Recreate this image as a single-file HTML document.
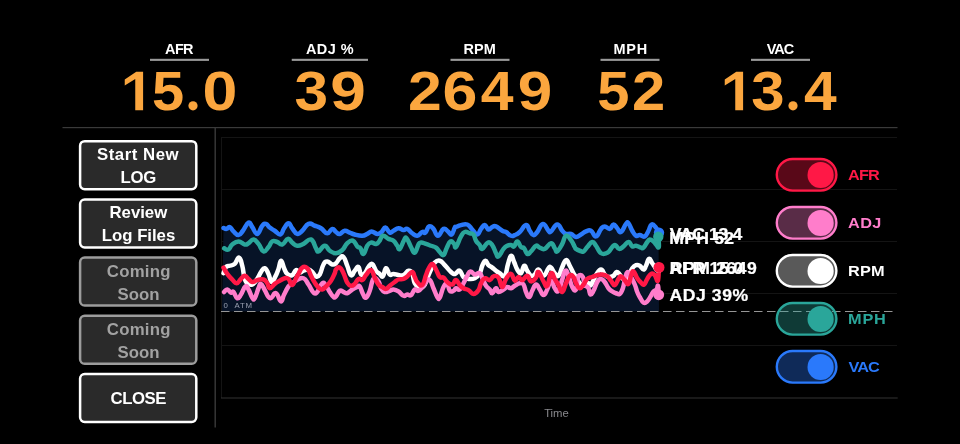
<!DOCTYPE html>
<html><head><meta charset="utf-8">
<style>
html,body{margin:0;padding:0;background:#000;}
body{width:960px;height:444px;overflow:hidden;position:relative;}
svg{position:absolute;left:0;top:0;display:block;filter:opacity(0.9999);}
text{font-family:"Liberation Sans",sans-serif;white-space:pre;}
</style></head><body>
<svg width="960" height="444" viewBox="0 0 960 444">
<rect x="0" y="0" width="960" height="444" fill="#000"/>
<!-- header underlines -->
<g fill="#9a9a9a">
<rect x="150" y="58.8" width="59" height="2.1"/>
<rect x="291.75" y="58.8" width="76.25" height="2.1"/>
<rect x="450.5" y="58.8" width="59" height="2.1"/>
<rect x="600.5" y="58.8" width="59" height="2.1"/>
<rect x="751" y="58.8" width="59" height="2.1"/>
</g>
<!-- dividers -->
<rect x="62.5" y="127" width="835" height="1.2" fill="#3a3a3a"/>
<rect x="214.5" y="127" width="1.4" height="300.5" fill="#3a3a3a"/>
<!-- buttons -->
<rect x="80.1" y="141.15" width="116.2" height="48" rx="4.6" ry="4.6" fill="#2a2a2a" stroke="#fff" stroke-width="2.5"/>
<rect x="80.1" y="199.45" width="116.2" height="48" rx="4.6" ry="4.6" fill="#2a2a2a" stroke="#fff" stroke-width="2.5"/>
<rect x="80.1" y="257.55" width="116.2" height="48" rx="4.6" ry="4.6" fill="#2a2a2a" stroke="#9c9c9c" stroke-width="2.5"/>
<rect x="80.1" y="315.75" width="116.2" height="48" rx="4.6" ry="4.6" fill="#2a2a2a" stroke="#9c9c9c" stroke-width="2.5"/>
<rect x="80.1" y="373.95" width="116.2" height="48" rx="4.6" ry="4.6" fill="#2a2a2a" stroke="#fff" stroke-width="2.5"/>
<!-- chart grid -->
<g stroke="#141414" stroke-width="1" fill="none">
<line x1="221" y1="137.5" x2="897" y2="137.5"/>
<line x1="221" y1="189.5" x2="897" y2="189.5"/>
<line x1="221" y1="241.5" x2="897" y2="241.5"/>
<line x1="221" y1="293.5" x2="897" y2="293.5"/>
<line x1="221" y1="345.5" x2="897" y2="345.5"/>
<line x1="221.5" y1="137" x2="221.5" y2="398"/>
</g>
<line x1="221" y1="398" x2="897.7" y2="398" stroke="#333" stroke-width="1"/>
<path d="M223.50,228.00 C224.22,228.21 225.14,229.13 226.60,228.90 C228.06,228.67 228.14,226.42 229.75,227.00 C231.36,227.58 231.46,229.51 233.50,231.40 C235.54,233.29 236.31,235.25 238.50,235.10 C240.69,234.95 240.57,233.67 242.90,230.75 C245.23,227.83 246.32,223.47 248.50,222.60 C250.68,221.72 250.21,224.36 252.25,227.00 C254.29,229.64 254.92,234.19 257.25,233.90 C259.58,233.61 260.21,228.08 262.25,225.75 C264.29,223.42 264.25,223.47 266.00,223.90 C267.75,224.33 267.71,226.00 269.75,227.60 C271.79,229.20 272.26,229.14 274.75,230.75 C277.24,232.36 278.22,235.08 280.40,234.50 C282.58,233.92 282.21,230.88 284.10,228.25 C285.99,225.62 286.60,223.25 288.50,223.25 C290.40,223.25 290.21,225.76 292.25,228.25 C294.29,230.74 294.92,233.32 297.25,233.90 C299.58,234.48 299.62,233.08 302.25,230.75 C304.88,228.42 305.58,225.07 308.50,223.90 C311.42,222.73 311.83,224.74 314.75,225.75 C317.67,226.76 318.08,226.50 321.00,228.25 C323.92,230.00 324.62,233.10 327.25,233.25 C329.88,233.40 330.21,229.19 332.25,228.90 C334.29,228.61 334.25,230.83 336.00,232.00 C337.75,233.17 337.71,234.19 339.75,233.90 C341.79,233.61 342.42,231.05 344.75,230.75 C347.08,230.45 347.42,231.72 349.75,232.60 C352.08,233.47 351.83,233.76 354.75,234.50 C357.67,235.24 359.33,235.89 362.25,235.75 C365.17,235.61 365.07,234.91 367.25,233.90 C369.43,232.89 369.27,231.40 371.60,231.40 C373.93,231.40 374.92,233.76 377.25,233.90 C379.58,234.04 379.70,233.47 381.60,232.00 C383.50,230.53 383.50,227.46 385.40,227.60 C387.30,227.74 387.86,231.86 389.75,232.60 C391.64,233.34 391.46,231.76 393.50,230.75 C395.54,229.74 396.17,228.40 398.50,228.25 C400.83,228.10 401.46,229.95 403.50,230.10 C405.54,230.25 405.21,228.16 407.25,228.90 C409.29,229.64 409.92,231.65 412.25,233.25 C414.58,234.85 414.92,236.04 417.25,235.75 C419.58,235.46 420.35,232.74 422.25,232.00 C424.15,231.26 423.80,233.91 425.40,232.60 C427.00,231.29 427.21,227.26 429.10,226.40 C430.99,225.54 431.45,226.72 433.50,228.90 C435.55,231.08 435.57,235.75 437.90,235.75 C440.23,235.75 441.17,229.91 443.50,228.90 C445.83,227.89 446.01,230.09 447.90,231.40 C449.79,232.71 450.00,235.39 451.60,234.50 C453.20,233.61 453.72,229.35 454.75,227.60 C455.78,225.85 454.54,227.58 456.00,227.00 C457.46,226.42 458.38,225.68 461.00,225.10 C463.62,224.52 464.62,223.47 467.25,224.50 C469.88,225.53 469.92,227.17 472.25,229.50 C474.58,231.83 475.21,234.64 477.25,234.50 C479.29,234.36 479.25,231.09 481.00,228.90 C482.75,226.71 483.00,224.96 484.75,225.10 C486.50,225.24 486.75,229.06 488.50,229.50 C490.25,229.94 490.50,227.72 492.25,227.00 C494.00,226.28 493.67,225.53 496.00,226.40 C498.33,227.28 499.92,229.44 502.25,230.75 C504.58,232.06 503.96,230.83 506.00,232.00 C508.04,233.17 508.96,235.03 511.00,235.75 C513.04,236.47 512.71,235.97 514.75,235.10 C516.79,234.22 517.12,234.33 519.75,232.00 C522.38,229.67 523.67,225.39 526.00,225.10 C528.33,224.81 528.00,228.42 529.75,230.75 C531.50,233.08 531.75,234.81 533.50,235.10 C535.25,235.39 535.06,234.61 537.25,232.00 C539.44,229.39 540.27,224.19 542.90,223.90 C545.52,223.61 546.61,229.00 548.50,230.75 C550.39,232.50 548.96,232.86 551.00,231.40 C553.04,229.94 554.62,224.65 557.25,224.50 C559.88,224.35 560.21,228.56 562.25,230.75 C564.29,232.94 563.96,233.16 566.00,233.90 C568.04,234.64 568.67,233.18 571.00,233.90 C573.33,234.62 573.67,236.86 576.00,237.00 C578.33,237.14 578.67,235.81 581.00,234.50 C583.33,233.19 583.67,232.28 586.00,231.40 C588.33,230.53 588.67,229.58 591.00,230.75 C593.33,231.92 593.67,236.83 596.00,236.40 C598.33,235.97 598.96,231.23 601.00,228.90 C603.04,226.57 602.71,226.40 604.75,226.40 C606.79,226.40 607.71,229.34 609.75,228.90 C611.79,228.46 611.75,224.65 613.50,224.50 C615.25,224.35 615.50,226.50 617.25,228.25 C619.00,230.00 618.96,233.01 621.00,232.00 C623.04,230.99 624.25,225.94 626.00,223.90 C627.75,221.86 627.04,221.65 628.50,223.25 C629.96,224.85 630.50,227.83 632.25,230.75 C634.00,233.67 634.25,234.74 636.00,235.75 C637.75,236.76 637.71,234.95 639.75,235.10 C641.79,235.25 642.71,237.41 644.75,236.40 C646.79,235.39 646.90,233.53 648.50,230.75 C650.10,227.97 649.85,225.24 651.60,224.50 C653.35,223.76 654.39,225.73 656.00,227.60 C657.61,229.47 657.92,231.36 658.50,232.50 L659,311.5 L222,311.5 Z" fill="#071327"/>
<line x1="221" y1="311.5" x2="897" y2="311.5" stroke="#969696" stroke-width="1" stroke-dasharray="8.5 4.5"/>
<!-- series -->
<g fill="none" stroke-width="4.5" stroke-linecap="round" stroke-linejoin="round">
<path d="M223.50,228.00 C224.22,228.21 225.14,229.13 226.60,228.90 C228.06,228.67 228.14,226.42 229.75,227.00 C231.36,227.58 231.46,229.51 233.50,231.40 C235.54,233.29 236.31,235.25 238.50,235.10 C240.69,234.95 240.57,233.67 242.90,230.75 C245.23,227.83 246.32,223.47 248.50,222.60 C250.68,221.72 250.21,224.36 252.25,227.00 C254.29,229.64 254.92,234.19 257.25,233.90 C259.58,233.61 260.21,228.08 262.25,225.75 C264.29,223.42 264.25,223.47 266.00,223.90 C267.75,224.33 267.71,226.00 269.75,227.60 C271.79,229.20 272.26,229.14 274.75,230.75 C277.24,232.36 278.22,235.08 280.40,234.50 C282.58,233.92 282.21,230.88 284.10,228.25 C285.99,225.62 286.60,223.25 288.50,223.25 C290.40,223.25 290.21,225.76 292.25,228.25 C294.29,230.74 294.92,233.32 297.25,233.90 C299.58,234.48 299.62,233.08 302.25,230.75 C304.88,228.42 305.58,225.07 308.50,223.90 C311.42,222.73 311.83,224.74 314.75,225.75 C317.67,226.76 318.08,226.50 321.00,228.25 C323.92,230.00 324.62,233.10 327.25,233.25 C329.88,233.40 330.21,229.19 332.25,228.90 C334.29,228.61 334.25,230.83 336.00,232.00 C337.75,233.17 337.71,234.19 339.75,233.90 C341.79,233.61 342.42,231.05 344.75,230.75 C347.08,230.45 347.42,231.72 349.75,232.60 C352.08,233.47 351.83,233.76 354.75,234.50 C357.67,235.24 359.33,235.89 362.25,235.75 C365.17,235.61 365.07,234.91 367.25,233.90 C369.43,232.89 369.27,231.40 371.60,231.40 C373.93,231.40 374.92,233.76 377.25,233.90 C379.58,234.04 379.70,233.47 381.60,232.00 C383.50,230.53 383.50,227.46 385.40,227.60 C387.30,227.74 387.86,231.86 389.75,232.60 C391.64,233.34 391.46,231.76 393.50,230.75 C395.54,229.74 396.17,228.40 398.50,228.25 C400.83,228.10 401.46,229.95 403.50,230.10 C405.54,230.25 405.21,228.16 407.25,228.90 C409.29,229.64 409.92,231.65 412.25,233.25 C414.58,234.85 414.92,236.04 417.25,235.75 C419.58,235.46 420.35,232.74 422.25,232.00 C424.15,231.26 423.80,233.91 425.40,232.60 C427.00,231.29 427.21,227.26 429.10,226.40 C430.99,225.54 431.45,226.72 433.50,228.90 C435.55,231.08 435.57,235.75 437.90,235.75 C440.23,235.75 441.17,229.91 443.50,228.90 C445.83,227.89 446.01,230.09 447.90,231.40 C449.79,232.71 450.00,235.39 451.60,234.50 C453.20,233.61 453.72,229.35 454.75,227.60 C455.78,225.85 454.54,227.58 456.00,227.00 C457.46,226.42 458.38,225.68 461.00,225.10 C463.62,224.52 464.62,223.47 467.25,224.50 C469.88,225.53 469.92,227.17 472.25,229.50 C474.58,231.83 475.21,234.64 477.25,234.50 C479.29,234.36 479.25,231.09 481.00,228.90 C482.75,226.71 483.00,224.96 484.75,225.10 C486.50,225.24 486.75,229.06 488.50,229.50 C490.25,229.94 490.50,227.72 492.25,227.00 C494.00,226.28 493.67,225.53 496.00,226.40 C498.33,227.28 499.92,229.44 502.25,230.75 C504.58,232.06 503.96,230.83 506.00,232.00 C508.04,233.17 508.96,235.03 511.00,235.75 C513.04,236.47 512.71,235.97 514.75,235.10 C516.79,234.22 517.12,234.33 519.75,232.00 C522.38,229.67 523.67,225.39 526.00,225.10 C528.33,224.81 528.00,228.42 529.75,230.75 C531.50,233.08 531.75,234.81 533.50,235.10 C535.25,235.39 535.06,234.61 537.25,232.00 C539.44,229.39 540.27,224.19 542.90,223.90 C545.52,223.61 546.61,229.00 548.50,230.75 C550.39,232.50 548.96,232.86 551.00,231.40 C553.04,229.94 554.62,224.65 557.25,224.50 C559.88,224.35 560.21,228.56 562.25,230.75 C564.29,232.94 563.96,233.16 566.00,233.90 C568.04,234.64 568.67,233.18 571.00,233.90 C573.33,234.62 573.67,236.86 576.00,237.00 C578.33,237.14 578.67,235.81 581.00,234.50 C583.33,233.19 583.67,232.28 586.00,231.40 C588.33,230.53 588.67,229.58 591.00,230.75 C593.33,231.92 593.67,236.83 596.00,236.40 C598.33,235.97 598.96,231.23 601.00,228.90 C603.04,226.57 602.71,226.40 604.75,226.40 C606.79,226.40 607.71,229.34 609.75,228.90 C611.79,228.46 611.75,224.65 613.50,224.50 C615.25,224.35 615.50,226.50 617.25,228.25 C619.00,230.00 618.96,233.01 621.00,232.00 C623.04,230.99 624.25,225.94 626.00,223.90 C627.75,221.86 627.04,221.65 628.50,223.25 C629.96,224.85 630.50,227.83 632.25,230.75 C634.00,233.67 634.25,234.74 636.00,235.75 C637.75,236.76 637.71,234.95 639.75,235.10 C641.79,235.25 642.71,237.41 644.75,236.40 C646.79,235.39 646.90,233.53 648.50,230.75 C650.10,227.97 649.85,225.24 651.60,224.50 C653.35,223.76 654.39,225.73 656.00,227.60 C657.61,229.47 657.92,231.36 658.50,232.50" stroke="#2A79FB"/>
<path d="M224.10,248.25 C225.13,248.54 226.60,250.38 228.50,249.50 C230.40,248.62 229.92,246.39 232.25,244.50 C234.58,242.61 235.58,241.40 238.50,241.40 C241.42,241.40 242.42,244.07 244.75,244.50 C247.08,244.93 246.46,244.42 248.50,243.25 C250.54,242.08 251.17,239.35 253.50,239.50 C255.83,239.65 256.17,241.12 258.50,243.90 C260.83,246.68 261.17,250.68 263.50,251.40 C265.83,252.12 266.46,249.33 268.50,247.00 C270.54,244.67 270.21,242.57 272.25,241.40 C274.29,240.23 274.92,241.28 277.25,242.00 C279.58,242.72 279.76,245.22 282.25,244.50 C284.74,243.78 285.57,239.34 287.90,238.90 C290.23,238.46 290.07,241.00 292.25,242.60 C294.43,244.20 294.62,245.45 297.25,245.75 C299.88,246.05 300.29,245.36 303.50,243.90 C306.71,242.44 308.08,238.49 311.00,239.50 C313.92,240.51 314.25,245.47 316.00,248.25 C317.75,251.03 316.46,251.98 318.50,251.40 C320.54,250.82 322.12,245.90 324.75,245.75 C327.38,245.60 327.12,249.00 329.75,250.75 C332.38,252.50 333.08,253.40 336.00,253.25 C338.92,253.10 339.62,252.43 342.25,250.10 C344.88,247.77 344.76,245.43 347.25,243.25 C349.74,241.07 350.57,240.01 352.90,240.75 C355.23,241.49 355.50,244.65 357.25,246.40 C359.00,248.15 358.94,246.50 360.40,248.25 C361.86,250.00 361.90,254.48 363.50,253.90 C365.10,253.32 365.50,248.39 367.25,245.75 C369.00,243.11 368.96,243.03 371.00,242.60 C373.04,242.17 374.11,244.18 376.00,243.90 C377.89,243.62 377.49,243.30 379.10,241.40 C380.71,239.50 380.71,236.33 382.90,235.75 C385.09,235.17 386.03,237.73 388.50,238.90 C390.97,240.07 391.46,239.15 393.50,240.75 C395.54,242.35 395.79,243.85 397.25,245.75 C398.71,247.65 398.15,250.22 399.75,248.90 C401.35,247.58 402.50,242.59 404.10,240.10 C405.70,237.61 404.99,236.64 406.60,238.25 C408.21,239.86 409.10,243.65 411.00,247.00 C412.90,250.35 413.00,253.18 414.75,252.60 C416.50,252.02 417.04,246.83 418.50,244.50 C419.96,242.17 419.25,242.74 421.00,242.60 C422.75,242.46 423.67,243.16 426.00,243.90 C428.33,244.64 428.67,244.89 431.00,245.75 C433.33,246.61 433.96,246.14 436.00,247.60 C438.04,249.06 438.00,250.25 439.75,252.00 C441.50,253.75 441.90,255.97 443.50,255.10 C445.10,254.22 444.99,251.45 446.60,248.25 C448.21,245.05 448.65,242.41 450.40,241.40 C452.15,240.39 452.79,242.59 454.10,243.90 C455.41,245.21 454.39,248.75 456.00,247.00 C457.61,245.25 458.96,239.90 461.00,236.40 C463.04,232.90 462.71,232.74 464.75,232.00 C466.79,231.26 467.71,232.67 469.75,233.25 C471.79,233.83 472.04,232.75 473.50,234.50 C474.96,236.25 474.54,238.28 476.00,240.75 C477.46,243.22 478.29,243.20 479.75,245.10 C481.21,247.00 480.35,249.48 482.25,248.90 C484.15,248.32 485.57,243.49 487.90,242.60 C490.23,241.71 490.36,242.61 492.25,245.10 C494.14,247.59 494.54,250.61 496.00,253.25 C497.46,255.89 496.75,257.41 498.50,256.40 C500.25,255.38 501.46,251.38 503.50,248.90 C505.54,246.42 505.50,246.64 507.25,245.75 C509.00,244.86 509.40,244.95 511.00,245.10 C512.60,245.25 512.64,247.26 514.10,246.40 C515.56,245.54 515.64,241.26 517.25,241.40 C518.86,241.54 519.40,245.40 521.00,247.00 C522.60,248.60 522.64,246.64 524.10,248.25 C525.56,249.86 525.64,253.16 527.25,253.90 C528.86,254.64 528.96,253.30 531.00,251.40 C533.04,249.50 533.96,246.64 536.00,245.75 C538.04,244.86 537.71,246.86 539.75,247.60 C541.79,248.34 542.12,249.91 544.75,248.90 C547.38,247.89 548.67,243.40 551.00,243.25 C553.33,243.10 553.29,246.35 554.75,248.25 C556.21,250.15 555.50,252.41 557.25,251.40 C559.00,250.39 560.21,247.55 562.25,243.90 C564.29,240.25 563.96,236.64 566.00,235.75 C568.04,234.86 568.96,237.47 571.00,240.10 C573.04,242.72 573.58,244.95 574.75,247.00 C575.92,249.05 574.83,248.03 576.00,248.90 C577.17,249.78 578.00,250.17 579.75,250.75 C581.50,251.33 581.75,252.28 583.50,251.40 C585.25,250.53 585.21,249.19 587.25,247.00 C589.29,244.81 590.21,242.29 592.25,242.00 C594.29,241.71 594.25,243.42 596.00,245.75 C597.75,248.08 598.00,250.10 599.75,252.00 C601.50,253.90 601.46,253.90 603.50,253.90 C605.54,253.90 606.46,253.61 608.50,252.00 C610.54,250.39 610.64,248.61 612.25,247.00 C613.86,245.39 613.80,244.66 615.40,245.10 C617.00,245.54 617.21,248.60 619.10,248.90 C620.99,249.20 621.31,248.01 623.50,246.40 C625.69,244.79 626.46,242.00 628.50,242.00 C630.54,242.00 630.50,245.53 632.25,246.40 C634.00,247.28 633.96,245.47 636.00,245.75 C638.04,246.03 639.25,247.17 641.00,247.60 C642.75,248.03 642.04,248.91 643.50,247.60 C644.96,246.29 645.79,243.89 647.25,242.00 C648.71,240.11 648.29,239.64 649.75,239.50 C651.21,239.36 652.04,240.23 653.50,241.40 C654.96,242.57 654.76,243.19 656.00,244.50 C657.24,245.81 658.26,248.75 658.80,247.00 C659.34,245.25 658.42,239.33 658.30,237.00" stroke="#2AA69A"/>
<path d="M223.50,273.25 C224.08,271.79 224.54,268.75 226.00,267.00 C227.46,265.25 227.71,266.47 229.75,265.75 C231.79,265.03 232.57,265.80 234.75,263.90 C236.93,262.00 237.35,257.17 239.10,257.60 C240.85,258.03 241.08,261.51 242.25,265.75 C243.42,269.99 243.09,271.82 244.10,275.75 C245.11,279.68 244.70,280.56 246.60,282.60 C248.50,284.64 249.76,285.36 252.25,284.50 C254.74,283.64 255.21,281.82 257.25,278.90 C259.29,275.98 259.25,274.49 261.00,272.00 C262.75,269.51 263.00,267.81 264.75,268.25 C266.50,268.69 266.90,270.69 268.50,273.90 C270.10,277.11 269.99,281.42 271.60,282.00 C273.21,282.58 273.79,279.46 275.40,276.40 C277.01,273.34 277.19,272.55 278.50,268.90 C279.81,265.25 279.69,260.90 281.00,260.75 C282.31,260.60 282.64,265.18 284.10,268.25 C285.56,271.32 285.35,272.30 287.25,273.90 C289.15,275.50 290.21,275.99 292.25,275.10 C294.29,274.21 294.25,270.68 296.00,270.10 C297.75,269.52 298.00,272.45 299.75,272.60 C301.50,272.75 301.46,271.47 303.50,270.75 C305.54,270.03 306.46,269.21 308.50,269.50 C310.54,269.79 310.50,270.39 312.25,272.00 C314.00,273.61 314.25,275.82 316.00,276.40 C317.75,276.98 318.00,277.28 319.75,274.50 C321.50,271.72 321.75,267.56 323.50,264.50 C325.25,261.44 325.21,261.40 327.25,261.40 C329.29,261.40 330.21,264.07 332.25,264.50 C334.29,264.93 334.25,264.71 336.00,263.25 C337.75,261.79 338.00,259.71 339.75,258.25 C341.50,256.79 341.75,255.25 343.50,257.00 C345.25,258.75 345.50,261.53 347.25,265.75 C349.00,269.97 349.25,273.93 351.00,275.10 C352.75,276.27 353.00,272.64 354.75,270.75 C356.50,268.86 357.04,266.12 358.50,267.00 C359.96,267.88 359.54,273.04 361.00,274.50 C362.46,275.96 363.00,275.00 364.75,273.25 C366.50,271.50 366.75,269.18 368.50,267.00 C370.25,264.82 370.50,263.02 372.25,263.90 C374.00,264.77 374.25,268.42 376.00,270.75 C377.75,273.08 378.14,272.58 379.75,273.90 C381.36,275.22 381.44,277.72 382.90,276.40 C384.36,275.08 384.40,268.69 386.00,268.25 C387.60,267.81 388.00,273.18 389.75,274.50 C391.50,275.82 391.46,273.76 393.50,273.90 C395.54,274.04 396.17,274.82 398.50,275.10 C400.83,275.38 401.17,276.12 403.50,275.10 C405.83,274.09 406.46,271.03 408.50,270.75 C410.54,270.47 410.79,270.98 412.25,273.90 C413.71,276.82 413.29,280.33 414.75,283.25 C416.21,286.17 416.46,285.66 418.50,286.40 C420.54,287.13 421.46,288.30 423.50,286.40 C425.54,284.50 425.50,282.19 427.25,278.25 C429.00,274.31 429.25,273.15 431.00,269.50 C432.75,265.85 432.71,264.64 434.75,262.60 C436.79,260.56 437.42,260.17 439.75,260.75 C442.08,261.33 442.42,262.77 444.75,265.10 C447.08,267.43 447.71,268.70 449.75,270.75 C451.79,272.80 452.04,273.32 453.50,273.90 C454.96,274.48 454.54,273.99 456.00,273.25 C457.46,272.51 458.00,269.88 459.75,270.75 C461.50,271.62 461.46,275.10 463.50,277.00 C465.54,278.90 465.88,278.61 468.50,278.90 C471.12,279.19 472.12,279.57 474.75,278.25 C477.38,276.93 478.00,276.17 479.75,273.25 C481.50,270.33 480.93,268.67 482.25,265.75 C483.57,262.83 483.94,260.90 485.40,260.75 C486.86,260.60 486.90,263.50 488.50,265.10 C490.10,266.70 490.50,266.28 492.25,267.60 C494.00,268.92 494.25,269.43 496.00,270.75 C497.75,272.07 497.71,272.08 499.75,273.25 C501.79,274.42 502.85,277.79 504.75,275.75 C506.65,273.71 506.44,269.17 507.90,264.50 C509.36,259.83 509.55,256.33 511.00,255.75 C512.45,255.17 512.64,258.79 514.10,262.00 C515.56,265.21 515.64,266.88 517.25,269.50 C518.86,272.12 519.40,274.12 521.00,273.25 C522.60,272.38 522.64,266.33 524.10,265.75 C525.56,265.17 525.64,268.42 527.25,270.75 C528.86,273.08 529.25,274.88 531.00,275.75 C532.75,276.62 533.00,275.96 534.75,274.50 C536.50,273.04 536.46,269.21 538.50,269.50 C540.54,269.79 541.17,276.04 543.50,275.75 C545.83,275.46 546.75,270.15 548.50,268.25 C550.25,266.35 549.54,266.43 551.00,267.60 C552.46,268.77 553.00,271.35 554.75,273.25 C556.50,275.15 556.75,277.21 558.50,275.75 C560.25,274.29 560.50,270.65 562.25,267.00 C564.00,263.35 564.25,260.39 566.00,260.10 C567.75,259.81 568.00,262.68 569.75,265.75 C571.50,268.82 572.04,270.62 573.50,273.25 C574.96,275.88 574.54,274.67 576.00,277.00 C577.46,279.33 578.00,281.21 579.75,283.25 C581.50,285.29 581.46,285.75 583.50,285.75 C585.54,285.75 586.75,283.43 588.50,283.25 C590.25,283.07 589.25,286.93 591.00,285.00 C592.75,283.07 593.67,278.62 596.00,275.00 C598.33,271.38 598.96,269.62 601.00,269.50 C603.04,269.38 603.00,272.75 604.75,274.50 C606.50,276.25 606.46,276.71 608.50,277.00 C610.54,277.29 611.61,276.92 613.50,275.75 C615.39,274.58 615.14,272.29 616.60,272.00 C618.06,271.71 618.14,272.75 619.75,274.50 C621.36,276.25 621.46,279.21 623.50,279.50 C625.54,279.79 626.46,278.38 628.50,275.75 C630.54,273.12 630.50,270.74 632.25,268.25 C634.00,265.76 634.25,265.68 636.00,265.10 C637.75,264.52 638.00,264.72 639.75,265.75 C641.50,266.78 642.04,269.50 643.50,269.50 C644.96,269.50 644.69,268.22 646.00,265.75 C647.31,263.28 647.64,259.48 649.10,258.90 C650.56,258.32 650.64,261.07 652.25,263.25 C653.86,265.43 654.54,267.24 656.00,268.25 C657.46,269.26 657.92,267.75 658.50,267.60" stroke="#FFFFFF"/>
<path d="M224.10,292.00 C224.84,291.42 225.64,289.36 227.25,289.50 C228.86,289.64 229.54,292.02 231.00,292.60 C232.46,293.18 232.04,290.68 233.50,292.00 C234.96,293.32 235.50,297.67 237.25,298.25 C239.00,298.83 239.10,297.26 241.00,294.50 C242.90,291.74 243.65,287.57 245.40,286.40 C247.15,285.23 246.90,286.89 248.50,289.50 C250.10,292.11 250.79,295.56 252.25,297.60 C253.71,299.64 253.29,300.43 254.75,298.25 C256.21,296.07 257.04,291.60 258.50,288.25 C259.96,284.90 259.54,283.47 261.00,283.90 C262.46,284.33 263.00,287.04 264.75,290.10 C266.50,293.16 266.90,295.25 268.50,297.00 C270.10,298.75 270.14,298.48 271.60,297.60 C273.06,296.73 273.43,293.97 274.75,293.25 C276.07,292.53 275.79,292.60 277.25,294.50 C278.71,296.40 279.40,301.40 281.00,301.40 C282.60,301.40 282.35,298.00 284.10,294.50 C285.85,291.00 286.89,288.73 288.50,286.40 C290.11,284.07 289.02,285.99 291.00,284.50 C292.98,283.01 294.08,281.46 297.00,280.00 C299.92,278.54 300.82,277.20 303.50,278.25 C306.18,279.30 306.17,281.15 308.50,284.50 C310.83,287.85 311.46,290.85 313.50,292.60 C315.54,294.35 315.21,294.18 317.25,292.00 C319.29,289.82 320.21,284.71 322.25,283.25 C324.29,281.79 324.25,283.71 326.00,285.75 C327.75,287.79 328.00,289.38 329.75,292.00 C331.50,294.62 332.04,295.97 333.50,297.00 C334.96,298.03 334.54,297.86 336.00,296.40 C337.46,294.94 338.00,291.78 339.75,290.75 C341.50,289.72 341.75,291.42 343.50,292.00 C345.25,292.58 345.21,293.83 347.25,293.25 C349.29,292.67 349.92,290.96 352.25,289.50 C354.58,288.04 355.50,287.72 357.25,287.00 C359.00,286.28 358.43,284.79 359.75,286.40 C361.07,288.01 361.44,291.29 362.90,293.90 C364.36,296.51 364.40,298.34 366.00,297.60 C367.60,296.87 368.00,295.11 369.75,290.75 C371.50,286.39 371.46,281.08 373.50,278.90 C375.54,276.72 376.75,279.22 378.50,281.40 C380.25,283.58 379.54,285.78 381.00,288.25 C382.46,290.72 382.71,291.42 384.75,292.00 C386.79,292.58 387.71,291.33 389.75,290.75 C391.79,290.17 391.46,289.35 393.50,289.50 C395.54,289.65 396.17,289.94 398.50,291.40 C400.83,292.86 401.46,295.03 403.50,295.75 C405.54,296.47 405.50,294.65 407.25,294.50 C409.00,294.35 409.25,296.27 411.00,295.10 C412.75,293.93 413.00,290.51 414.75,289.50 C416.50,288.49 416.46,291.62 418.50,290.75 C420.54,289.88 421.03,288.38 423.50,285.75 C425.97,283.12 426.77,278.92 429.10,279.50 C431.43,280.08 431.60,284.17 433.50,288.25 C435.40,292.33 435.79,294.82 437.25,297.00 C438.71,299.18 438.29,299.93 439.75,297.60 C441.21,295.27 441.75,290.20 443.50,287.00 C445.25,283.80 445.79,283.02 447.25,283.90 C448.71,284.77 448.29,289.15 449.75,290.75 C451.21,292.35 452.04,291.33 453.50,290.75 C454.96,290.17 454.54,288.54 456.00,288.25 C457.46,287.96 458.00,290.67 459.75,289.50 C461.50,288.33 461.75,286.46 463.50,283.25 C465.25,280.04 465.64,278.51 467.25,275.75 C468.86,272.99 468.65,271.69 470.40,271.40 C472.15,271.11 472.57,274.07 474.75,274.50 C476.93,274.93 477.85,272.08 479.75,273.25 C481.65,274.42 481.44,276.58 482.90,279.50 C484.36,282.42 484.40,283.42 486.00,285.75 C487.60,288.08 488.29,287.75 489.75,289.50 C491.21,291.25 490.79,293.54 492.25,293.25 C493.71,292.96 494.54,288.54 496.00,288.25 C497.46,287.96 496.75,291.71 498.50,292.00 C500.25,292.29 501.46,290.67 503.50,289.50 C505.54,288.33 505.50,287.29 507.25,287.00 C509.00,286.71 509.25,288.54 511.00,288.25 C512.75,287.96 512.71,286.92 514.75,285.75 C516.79,284.58 517.71,283.54 519.75,283.25 C521.79,282.96 522.04,282.46 523.50,284.50 C524.96,286.54 524.69,289.08 526.00,292.00 C527.31,294.92 527.64,297.29 529.10,297.00 C530.56,296.71 530.64,293.67 532.25,290.75 C533.86,287.83 534.25,284.79 536.00,284.50 C537.75,284.21 538.00,287.03 539.75,289.50 C541.50,291.97 541.75,295.10 543.50,295.10 C545.25,295.10 545.50,292.85 547.25,289.50 C549.00,286.15 549.25,281.04 551.00,280.75 C552.75,280.46 553.00,285.92 554.75,288.25 C556.50,290.58 556.75,292.79 558.50,290.75 C560.25,288.71 560.64,284.17 562.25,279.50 C563.86,274.83 563.94,271.62 565.40,270.75 C566.86,269.88 566.90,271.96 568.50,275.75 C570.10,279.54 570.50,283.79 572.25,287.00 C574.00,290.21 574.68,291.54 576.00,289.50 C577.32,287.46 577.02,281.61 577.90,278.25 C578.77,274.89 578.58,275.39 579.75,275.10 C580.92,274.81 581.73,274.81 582.90,277.00 C584.07,279.19 583.44,281.88 584.75,284.50 C586.06,287.12 587.18,285.92 588.50,288.25 C589.82,290.58 589.23,293.92 590.40,294.50 C591.57,295.08 591.90,293.67 593.50,290.75 C595.10,287.83 595.50,284.76 597.25,282.00 C599.00,279.24 599.25,278.90 601.00,278.90 C602.75,278.90 603.00,279.82 604.75,282.00 C606.50,284.18 606.75,286.06 608.50,288.25 C610.25,290.44 610.50,290.23 612.25,291.40 C614.00,292.57 614.25,292.67 616.00,293.25 C617.75,293.83 618.14,295.07 619.75,293.90 C621.36,292.73 621.58,292.19 622.90,288.25 C624.22,284.31 624.23,280.79 625.40,277.00 C626.57,273.21 626.59,272.00 627.90,272.00 C629.21,272.00 629.40,274.08 631.00,277.00 C632.60,279.92 633.29,281.00 634.75,284.50 C636.21,288.00 636.08,289.08 637.25,292.00 C638.42,294.92 638.29,294.53 639.75,297.00 C641.21,299.47 641.75,301.57 643.50,302.60 C645.25,303.63 645.50,303.00 647.25,301.40 C649.00,299.80 649.54,298.08 651.00,295.75 C652.46,293.42 652.19,292.86 653.50,291.40 C654.81,289.94 655.55,290.82 656.60,289.50 C657.65,288.18 657.50,284.58 658.00,285.75 C658.50,286.92 658.58,292.46 658.75,294.50" stroke="#FF7DCB"/>
<path d="M223.50,267.60 C224.38,269.07 225.21,271.12 227.25,273.90 C229.29,276.68 230.07,277.32 232.25,279.50 C234.43,281.68 234.56,283.39 236.60,283.25 C238.64,283.11 239.10,280.65 241.00,278.90 C242.90,277.15 243.00,275.75 244.75,275.75 C246.50,275.75 246.75,277.44 248.50,278.90 C250.25,280.36 250.21,281.72 252.25,282.00 C254.29,282.28 254.62,280.68 257.25,280.10 C259.88,279.52 261.17,278.76 263.50,279.50 C265.83,280.24 265.79,281.21 267.25,283.25 C268.71,285.29 268.00,288.10 269.75,288.25 C271.50,288.40 272.42,285.65 274.75,283.90 C277.08,282.15 277.42,282.07 279.75,280.75 C282.08,279.43 282.71,278.68 284.75,278.25 C286.79,277.82 286.75,277.30 288.50,278.90 C290.25,280.50 290.50,285.25 292.25,285.10 C294.00,284.95 294.54,280.86 296.00,278.25 C297.46,275.64 297.04,276.38 298.50,273.90 C299.96,271.41 300.21,268.92 302.25,267.60 C304.29,266.28 305.21,266.35 307.25,268.25 C309.29,270.15 309.25,272.40 311.00,275.75 C312.75,279.10 313.00,279.84 314.75,282.60 C316.50,285.37 316.75,285.99 318.50,287.60 C320.25,289.21 320.50,289.78 322.25,289.50 C324.00,289.22 323.96,288.44 326.00,286.40 C328.04,284.36 328.96,283.82 331.00,280.75 C333.04,277.68 333.58,275.88 334.75,273.25 C335.92,270.62 334.83,270.82 336.00,269.50 C337.17,268.18 338.00,266.73 339.75,267.60 C341.50,268.48 341.75,269.75 343.50,273.25 C345.25,276.75 345.50,279.68 347.25,282.60 C349.00,285.52 349.25,285.45 351.00,285.75 C352.75,286.05 353.00,285.50 354.75,283.90 C356.50,282.30 356.75,279.79 358.50,278.90 C360.25,278.01 360.50,280.99 362.25,280.10 C364.00,279.21 363.96,277.43 366.00,275.10 C368.04,272.77 368.96,269.52 371.00,270.10 C373.04,270.68 373.00,274.24 374.75,277.60 C376.50,280.96 376.75,282.31 378.50,284.50 C380.25,286.69 380.50,285.97 382.25,287.00 C384.00,288.03 384.25,289.19 386.00,288.90 C387.75,288.61 387.71,287.36 389.75,285.75 C391.79,284.14 392.71,283.46 394.75,282.00 C396.79,280.54 396.46,280.22 398.50,279.50 C400.54,278.78 401.46,279.62 403.50,278.90 C405.54,278.18 405.21,278.01 407.25,276.40 C409.29,274.79 410.50,271.86 412.25,272.00 C414.00,272.14 413.58,274.67 414.75,277.00 C415.92,279.33 415.50,280.11 417.25,282.00 C419.00,283.89 420.21,286.71 422.25,285.10 C424.29,283.49 424.54,278.88 426.00,275.10 C427.46,271.32 427.04,271.51 428.50,268.90 C429.96,266.29 430.50,263.76 432.25,263.90 C434.00,264.04 434.25,266.44 436.00,269.50 C437.75,272.56 438.00,275.11 439.75,277.00 C441.50,278.89 441.75,276.43 443.50,277.60 C445.25,278.77 445.21,280.39 447.25,282.00 C449.29,283.61 450.21,284.94 452.25,284.50 C454.29,284.06 454.25,279.96 456.00,280.10 C457.75,280.24 458.00,283.20 459.75,285.10 C461.50,287.00 461.46,287.08 463.50,288.25 C465.54,289.42 466.17,288.78 468.50,290.10 C470.83,291.42 471.17,293.90 473.50,293.90 C475.83,293.90 476.75,292.59 478.50,290.10 C480.25,287.62 479.54,286.01 481.00,283.25 C482.46,280.49 482.71,278.99 484.75,278.25 C486.79,277.51 487.71,280.53 489.75,280.10 C491.79,279.67 491.46,276.98 493.50,276.40 C495.54,275.82 496.46,275.13 498.50,277.60 C500.54,280.07 500.50,286.70 502.25,287.00 C504.00,287.30 503.96,281.96 506.00,278.90 C508.04,275.84 508.96,273.47 511.00,273.90 C513.04,274.33 513.00,280.03 514.75,280.75 C516.50,281.47 516.75,277.15 518.50,277.00 C520.25,276.85 520.21,280.39 522.25,280.10 C524.29,279.81 525.21,275.45 527.25,275.75 C529.29,276.05 528.96,280.97 531.00,281.40 C533.04,281.83 534.25,279.79 536.00,277.60 C537.75,275.41 536.75,271.11 538.50,272.00 C540.25,272.89 541.46,278.19 543.50,281.40 C545.54,284.61 545.50,287.65 547.25,285.75 C549.00,283.85 549.25,274.85 551.00,273.25 C552.75,271.65 553.00,276.13 554.75,278.90 C556.50,281.66 556.75,282.04 558.50,285.10 C560.25,288.16 560.50,292.43 562.25,292.00 C564.00,291.57 564.25,287.04 566.00,283.25 C567.75,279.46 568.00,277.21 569.75,275.75 C571.50,274.29 572.04,275.25 573.50,277.00 C574.96,278.75 574.54,280.62 576.00,283.25 C577.46,285.88 578.00,287.96 579.75,288.25 C581.50,288.54 581.75,286.68 583.50,284.50 C585.25,282.32 585.21,280.65 587.25,278.90 C589.29,277.15 589.92,277.89 592.25,277.00 C594.58,276.11 594.92,275.68 597.25,275.10 C599.58,274.52 599.92,274.20 602.25,274.50 C604.58,274.80 605.21,274.94 607.25,276.40 C609.29,277.86 609.25,278.72 611.00,280.75 C612.75,282.78 613.00,285.53 614.75,285.10 C616.50,284.67 617.04,280.93 618.50,278.90 C619.96,276.87 619.54,276.12 621.00,276.40 C622.46,276.68 623.00,278.35 624.75,280.10 C626.50,281.85 627.04,284.91 628.50,283.90 C629.96,282.88 629.83,278.67 631.00,275.75 C632.17,272.83 632.04,270.82 633.50,271.40 C634.96,271.98 635.50,275.64 637.25,278.25 C639.00,280.86 639.40,281.14 641.00,282.60 C642.60,284.06 642.64,285.36 644.10,284.50 C645.56,283.64 645.64,281.37 647.25,278.90 C648.86,276.43 649.25,274.79 651.00,273.90 C652.75,273.01 653.14,273.50 654.75,275.10 C656.36,276.70 656.96,282.50 657.90,280.75 C658.84,279.00 658.59,270.67 658.80,267.60" stroke="#FF1846"/>
</g>
<circle cx="659" cy="232.8" r="5.2" fill="#2A79FB"/>
<circle cx="658.3" cy="236.8" r="5.2" fill="#2AA69A"/>
<circle cx="658.5" cy="267.6" r="5.2" fill="#FFFFFF"/>
<circle cx="658.75" cy="294.8" r="5.4" fill="#FF7DCB"/>
<circle cx="659" cy="267.4" r="5.5" fill="#FF1846"/>
<!-- toggles -->
<rect x="776.8" y="159.00" width="59.6" height="31.6" rx="15.8" ry="15.8" fill="rgba(255,24,70,0.35)" stroke="#FF1846" stroke-width="2.4"/>
<circle cx="820.6" cy="175.00" r="13.1" fill="#FF1846"/>
<rect x="776.8" y="207.00" width="59.6" height="31.6" rx="15.8" ry="15.8" fill="rgba(255,125,203,0.35)" stroke="#FF7DCB" stroke-width="2.4"/>
<circle cx="820.6" cy="223.00" r="13.1" fill="#FF7DCB"/>
<rect x="776.8" y="255.00" width="59.6" height="31.6" rx="15.8" ry="15.8" fill="rgba(255,255,255,0.35)" stroke="#FFFFFF" stroke-width="2.4"/>
<circle cx="820.6" cy="271.00" r="13.1" fill="#FFFFFF"/>
<rect x="776.8" y="303.00" width="59.6" height="31.6" rx="15.8" ry="15.8" fill="rgba(42,166,154,0.35)" stroke="#2AA69A" stroke-width="2.4"/>
<circle cx="820.6" cy="319.00" r="13.1" fill="#2AA69A"/>
<rect x="776.8" y="351.00" width="59.6" height="31.6" rx="15.8" ry="15.8" fill="rgba(42,121,251,0.35)" stroke="#2A79FB" stroke-width="2.4"/>
<circle cx="820.6" cy="367.00" r="13.1" fill="#2A79FB"/>
<!-- text -->
<polygon points="143.10,71.75 143.10,110.25 135.25,110.25 135.25,79.00 124.75,85.50 124.75,79.40 136.25,71.75" fill="#FBA63E"/>
<text transform="translate(151.96,110.25) scale(1.0330,1)" font-size="56" font-weight="bold" fill="#FBA63E">5</text>
<circle cx="193.00" cy="105.8" r="4.6" fill="#FBA63E"/>
<text transform="translate(202.49,110.25) scale(1.1184,1)" font-size="56" font-weight="bold" fill="#FBA63E">0</text>
<text transform="translate(294.61,110.25) scale(1.0779,1)" font-size="56" font-weight="bold" fill="#FBA63E">3</text>
<text transform="translate(330.26,110.25) scale(1.1437,1)" font-size="56" font-weight="bold" fill="#FBA63E">9</text>
<text transform="translate(407.88,110.25) scale(1.0841,1)" font-size="56" font-weight="bold" fill="#FBA63E">2</text>
<text transform="translate(442.38,110.25) scale(1.1202,1)" font-size="56" font-weight="bold" fill="#FBA63E">6</text>
<text transform="translate(480.82,110.25) scale(1.0528,1)" font-size="56" font-weight="bold" fill="#FBA63E">4</text>
<text transform="translate(517.83,110.25) scale(1.1068,1)" font-size="56" font-weight="bold" fill="#FBA63E">9</text>
<text transform="translate(597.21,110.25) scale(1.0330,1)" font-size="56" font-weight="bold" fill="#FBA63E">5</text>
<text transform="translate(631.91,110.25) scale(1.0673,1)" font-size="56" font-weight="bold" fill="#FBA63E">2</text>
<polygon points="743.10,71.75 743.10,110.25 735.25,110.25 735.25,79.00 724.75,85.50 724.75,79.40 736.25,71.75" fill="#FBA63E"/>
<text transform="translate(751.37,110.25) scale(1.0689,1)" font-size="56" font-weight="bold" fill="#FBA63E">3</text>
<circle cx="793.00" cy="105.8" r="4.6" fill="#FBA63E"/>
<text transform="translate(804.12,110.25) scale(1.0494,1)" font-size="56" font-weight="bold" fill="#FBA63E">4</text>
<text transform="scale(1.05,1)" x="157.27" y="54.10" font-size="13.8" font-weight="bold" fill="#fff" letter-spacing="-0.648" xml:space="preserve">AFR</text>
<text transform="scale(1.05,1)" x="291.32" y="54.10" font-size="13.8" font-weight="bold" fill="#fff" letter-spacing="0.439" xml:space="preserve">ADJ %</text>
<text transform="scale(1.05,1)" x="441.46" y="54.10" font-size="13.8" font-weight="bold" fill="#fff" letter-spacing="0.115" xml:space="preserve">RPM</text>
<text transform="scale(1.05,1)" x="584.31" y="54.10" font-size="13.8" font-weight="bold" fill="#fff" letter-spacing="0.712" xml:space="preserve">MPH</text>
<text transform="scale(1.05,1)" x="730.14" y="54.10" font-size="13.8" font-weight="bold" fill="#fff" letter-spacing="-0.880" xml:space="preserve">VAC</text>
<text transform="scale(1.05,1)" x="92.39" y="159.90" font-size="16" font-weight="bold" fill="#fff" letter-spacing="0.502" xml:space="preserve">Start New</text>
<text transform="scale(1.05,1)" x="114.88" y="182.60" font-size="16" font-weight="bold" fill="#fff" letter-spacing="-0.349" xml:space="preserve">LOG</text>
<text transform="scale(1.05,1)" x="104.26" y="218.20" font-size="16" font-weight="bold" fill="#fff" letter-spacing="-0.021" xml:space="preserve">Review</text>
<text transform="scale(1.05,1)" x="97.02" y="241.00" font-size="16" font-weight="bold" fill="#fff" letter-spacing="-0.038" xml:space="preserve">Log Files</text>
<text transform="scale(1.05,1)" x="101.72" y="276.80" font-size="16" font-weight="bold" fill="#a2a2a2" letter-spacing="0.245" xml:space="preserve">Coming</text>
<text transform="scale(1.05,1)" x="111.92" y="299.80" font-size="16" font-weight="bold" fill="#a2a2a2" letter-spacing="0.011" xml:space="preserve">Soon</text>
<text transform="scale(1.05,1)" x="101.72" y="335.00" font-size="16" font-weight="bold" fill="#a2a2a2" letter-spacing="0.245" xml:space="preserve">Coming</text>
<text transform="scale(1.05,1)" x="111.92" y="358.00" font-size="16" font-weight="bold" fill="#a2a2a2" letter-spacing="0.011" xml:space="preserve">Soon</text>
<text transform="scale(1.05,1)" x="105.30" y="404.10" font-size="16" font-weight="bold" fill="#fff" letter-spacing="-0.483" xml:space="preserve">CLOSE</text>
<text transform="scale(1.1,1)" x="608.98" y="239.60" font-size="16" font-weight="bold" fill="#fff" stroke="#fff" stroke-width="0.25" letter-spacing="-0.336" xml:space="preserve">VAC 13.4</text>
<text transform="scale(1.1,1)" x="608.47" y="243.70" font-size="16" font-weight="bold" fill="#fff" stroke="#fff" stroke-width="0.25" letter-spacing="0.238" xml:space="preserve">MPH 52</text>
<text transform="scale(1.1,1)" x="608.93" y="274.10" font-size="16" font-weight="bold" fill="#fff" stroke="#fff" stroke-width="0.25" letter-spacing="0.510" xml:space="preserve">RPM 2649</text>
<text transform="scale(1.1,1)" x="608.69" y="274.10" font-size="16" font-weight="bold" fill="#fff" stroke="#fff" stroke-width="0.25" letter-spacing="-0.214" xml:space="preserve">AFR 15.0</text>
<text transform="scale(1.1,1)" x="608.69" y="300.70" font-size="16" font-weight="bold" fill="#fff" stroke="#fff" stroke-width="0.25" letter-spacing="0.504" xml:space="preserve">ADJ 39%</text>
<text transform="scale(1.06,1)" x="800.09" y="180.20" font-size="15.4" font-weight="bold" fill="#FF1846" letter-spacing="-0.894" xml:space="preserve">AFR</text>
<text transform="scale(1.06,1)" x="800.09" y="228.20" font-size="15.4" font-weight="bold" fill="#FF7DCB" letter-spacing="0.290" xml:space="preserve">ADJ</text>
<text transform="scale(1.06,1)" x="800.10" y="276.20" font-size="15.4" font-weight="bold" fill="#FFFFFF" letter-spacing="0.100" xml:space="preserve">RPM</text>
<text transform="scale(1.06,1)" x="800.10" y="324.20" font-size="15.4" font-weight="bold" fill="#2AA69A" letter-spacing="0.691" xml:space="preserve">MPH</text>
<text transform="scale(1.06,1)" x="800.36" y="372.20" font-size="15.4" font-weight="bold" fill="#2A79FB" letter-spacing="-0.853" xml:space="preserve">VAC</text>
<text x="544.15" y="416.85" font-size="11.3" font-weight="normal" fill="#8a8a8e" letter-spacing="-0.004" xml:space="preserve">Time</text>
<text x="223.45" y="307.60" font-size="7.8" font-weight="normal" fill="#9aa0b0" letter-spacing="0.911" xml:space="preserve">0  ATM</text>
</svg>
</body></html>
